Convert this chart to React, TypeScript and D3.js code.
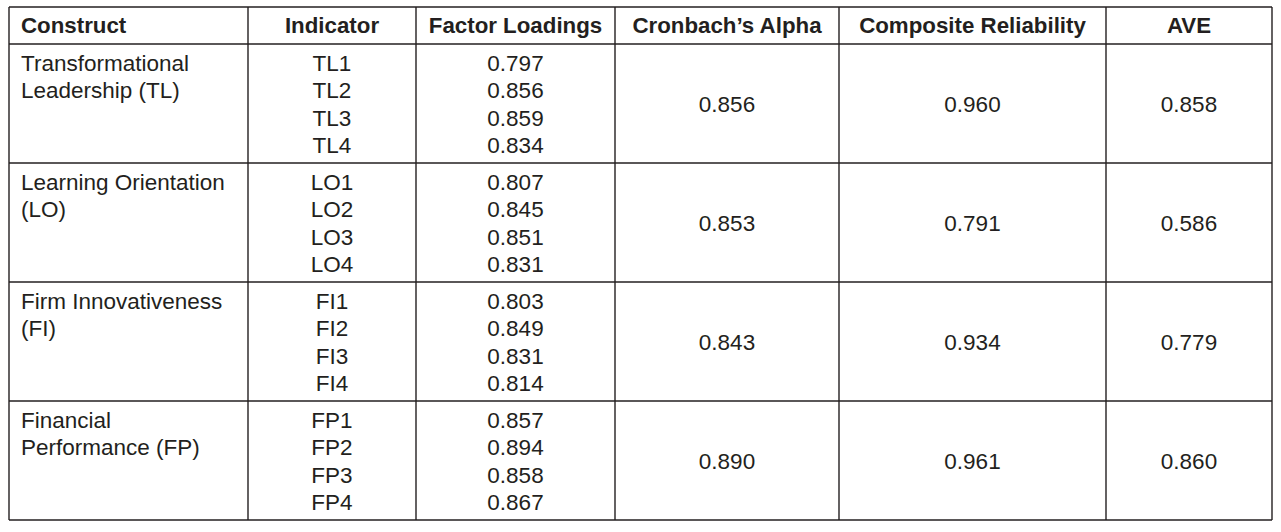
import React from 'react'
import * as d3 from 'd3'

const width = 1281
const height = 532

const headers = ['Construct', 'Indicator', 'Factor Loadings', 'Cronbach\u2019s Alpha', 'Composite Reliability', 'AVE']
const constructs = [
  ['Transformational', 'Leadership (TL)'],
  ['Learning Orientation', '(LO)'],
  ['Firm Innovativeness', '(FI)'],
  ['Financial', 'Performance (FP)'],
]
const indicators = [
  ['TL1', 'TL2', 'TL3', 'TL4'],
  ['LO1', 'LO2', 'LO3', 'LO4'],
  ['FI1', 'FI2', 'FI3', 'FI4'],
  ['FP1', 'FP2', 'FP3', 'FP4'],
]
const loadings = [
  [0.797, 0.856, 0.859, 0.834],
  [0.807, 0.845, 0.851, 0.831],
  [0.803, 0.849, 0.831, 0.814],
  [0.857, 0.894, 0.858, 0.867],
]
const alpha = [0.856, 0.853, 0.843, 0.890]
const compositeRel = [0.960, 0.791, 0.934, 0.961]
const ave = [0.858, 0.586, 0.779, 0.860]

// column edges (px)
const colEdges = [9, 248, 416, 615, 839, 1106, 1272]
const tableTop = 7
const headerBottom = 44
const tableBottom = 520

const ink = '#231f20'
const font = '"Liberation Sans", Arial, Helvetica, sans-serif'
const fmt = d3.format('.3f')

export default function App() {
  const rowScale = d3.scaleBand<number>()
    .domain(d3.range(constructs.length))
    .range([headerBottom, tableBottom])

  const lineY = d3.scaleLinear().domain([0, 1]).range([27, 54.3])

  const colMid = (i: number) => (colEdges[i] + colEdges[i + 1]) / 2

  return (
    <svg width={width} height={height} style={{ position: 'absolute', left: 0, top: 0, background: '#fff' }}
      fontFamily={font} fill={ink}>
      <rect x={0} y={0} width={width} height={height} fill="#fff" />

      {/* header */}
      {headers.map((h, i) => (
        <text key={h} x={i === 0 ? colEdges[0] + 12 : colMid(i)} y={33}
          textAnchor={i === 0 ? 'start' : 'middle'} fontWeight="bold" fontSize={22.3}>{h}</text>
      ))}

      {constructs.map((c, r) => {
        const top = rowScale(r) as number
        const mid = top + rowScale.bandwidth() / 2
        return (
          <g key={r}>
            {c.map((line, k) => (
              <text key={k} x={colEdges[0] + 12} y={top + lineY(k)} fontSize={22.5}>{line}</text>
            ))}
            {indicators[r].map((ind, k) => (
              <text key={ind} x={colMid(1)} y={top + lineY(k)} textAnchor="middle" fontSize={22.5}>{ind}</text>
            ))}
            {loadings[r].map((v, k) => (
              <text key={k} x={colMid(2)} y={top + lineY(k)} textAnchor="middle" fontSize={22.5}>{fmt(v)}</text>
            ))}
            {[alpha[r], compositeRel[r], ave[r]].map((v, k) => (
              <text key={k} x={colMid(3 + k)} y={mid + 8} textAnchor="middle" fontSize={22.5}>{fmt(v)}</text>
            ))}
          </g>
        )
      })}

      {/* grid lines */}
      <g stroke={ink} strokeWidth={1.4} fill="none">
        {[tableTop, headerBottom, ...d3.range(constructs.length).map(r => (rowScale(r) as number) + rowScale.bandwidth())].map((y, i) => (
          <line key={'h' + i} x1={colEdges[0]} x2={colEdges[colEdges.length - 1]} y1={y} y2={y} />
        ))}
        {colEdges.map((x, i) => (
          <line key={'v' + i} x1={x} x2={x} y1={tableTop} y2={tableBottom} />
        ))}
      </g>
    </svg>
  )
}
